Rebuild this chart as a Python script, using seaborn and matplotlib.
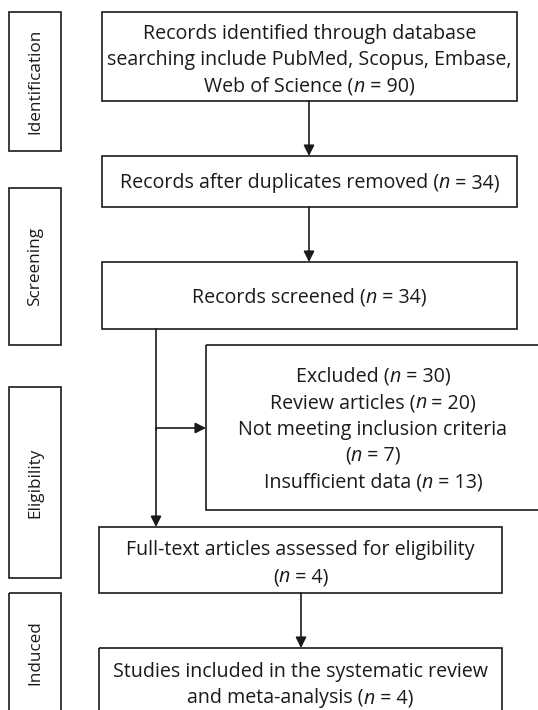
import matplotlib
matplotlib.use("Agg")
import matplotlib.pyplot as plt
from matplotlib.patches import Rectangle, FancyArrowPatch
import seaborn as sns

sns.set_theme(style="white")
plt.rcParams["font.family"] = ["Open Sans", "DejaVu Sans"]

# ---- data ----
stage_labels = ["Identification", "Screening", "Eligibility", "Induced"]
box1_lines = ["Records identified through database",
              "searching include PubMed, Scopus, Embase,",
              "Web of Science (*n* = 90)"]
box2_lines = ["Records after duplicates removed (*n* = 34)"]
box3_lines = ["Records screened (*n* = 34)"]
excl_lines = ["Excluded (*n* = 30)",
              "Review articles (*n* = 20)",
              "Not meeting inclusion criteria",
              "(*n* = 7)",
              "Insufficient data (*n* = 13)"]
box5_lines = ["Full-text articles assessed for eligibility", "(*n* = 4)"]
box6_lines = ["Studies included in the systematic review",
              "and meta-analysis (*n* = 4)"]

W, H = 538, 710
fig = plt.figure(figsize=(W / 100, H / 100), dpi=100)
ax = fig.add_axes([0, 0, 1, 1])
ax.set_xlim(0, W)
ax.set_ylim(H, 0)
ax.axis("off")
renderer = fig.canvas.get_renderer()

EC = "#1a1a1a"
TC = "#1a1a1a"
LW = 1.2
FS = 14.1
STEP = 26.5


def box(x0, y0, x1, y1):
    ax.add_patch(Rectangle((x0, y0), x1 - x0, y1 - y0, fill=False,
                           edgecolor=EC, linewidth=LW))


def rich_line(cx, base, s):
    parts = s.split("*")
    objs = []
    for i, p in enumerate(parts):
        if not p:
            continue
        t = ax.text(0, base, p, ha="left", va="baseline", fontsize=FS,
                    color=TC, style="italic" if i % 2 else "normal")
        objs.append(t)
    widths = []
    for t in objs:
        txt = t.get_text()
        t.set_text("|" + txt + "|")
        w_full = t.get_window_extent(renderer).width
        t.set_text("||")
        w_bars = t.get_window_extent(renderer).width
        t.set_text(txt)
        widths.append(w_full - w_bars)
    total = sum(widths)
    x = cx - total / 2
    for t, w in zip(objs, widths):
        t.set_x(x)
        x += w


def text_block(cx, first_base, lines):
    for k, s in enumerate(lines):
        rich_line(cx, first_base + k * STEP, s)


def arrow(p0, p1):
    ax.add_patch(FancyArrowPatch(p0, p1, arrowstyle="-|>", mutation_scale=16,
                                 color=EC, linewidth=LW, shrinkA=0, shrinkB=0))


# side stage boxes
side = [(12, 151), (188, 345), (387, 578), (593, 714)]
centers = [81.5, 266.5, 482.5, 653]
for (y0, y1), cy, lab in zip(side, centers, stage_labels):
    box(9, y0, 61, y1)
    ax.text(35, cy, lab, ha="center", va="center", fontsize=12.3,
            rotation=90, color=TC)

# main boxes
box(102, 12, 517, 101); text_block(309.5, 38.5, box1_lines)
box(102, 156, 517, 207); text_block(309.5, 188, box2_lines)
box(102, 262, 517, 329); text_block(309.5, 303, box3_lines)
box(206, 345, 545, 510); text_block(373, 381.5, excl_lines)
box(99, 527, 502, 593); text_block(300.5, 555.5, box5_lines)
box(99, 648, 502, 720); text_block(300.5, 677, box6_lines)

# arrows
arrow((309, 101), (309, 156))
arrow((309, 207), (309, 262))
ax.plot([156, 156], [329, 430], color=EC, linewidth=LW)
arrow((156, 428), (206, 428))
arrow((156, 429), (156, 527))
arrow((301, 593), (301, 648))

fig.savefig("out.png", dpi=100)
